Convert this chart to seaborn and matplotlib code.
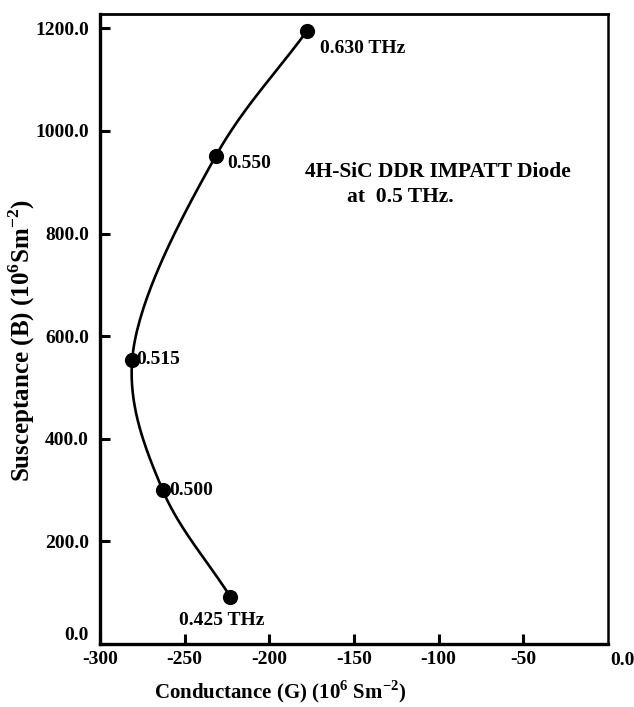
import numpy as np
import pandas as pd
import matplotlib
matplotlib.use("Agg")
import matplotlib.pyplot as plt
import seaborn as sns

# Admittance of the 4H-SiC DDR IMPATT diode at several frequencies
freq_labels = ["0.425 THz", "0.500", "0.515", "0.550", "0.630 THz"]
conductance = [-223.0, -263.0, -281.0, -231.5, -178.0]   # G (10^6 S m^-2)
susceptance = [92.0, 300.0, 554.0, 952.0, 1194.0]         # B (10^6 S m^-2)

x_ticks = [-300, -250, -200, -150, -100, -50]
y_ticks = [0, 200, 400, 600, 800, 1000, 1200]

df = pd.DataFrame({"G": conductance, "B": susceptance, "f": freq_labels})

XLIM = (-300, 0)
YLIM = (0, 1228)
W, H = 634, 707
AX_BOX = [100, 14, 508, 630]   # left, top, width, height in pixels


def catmull_rom(px, py, n=40, alpha=0.5):
    """Centripetal Catmull-Rom curve through the given points."""
    p = np.column_stack([px, py]).astype(float)
    p = np.vstack([2 * p[0] - p[1], p, 2 * p[-1] - p[-2]])
    out = []
    for i in range(1, len(p) - 2):
        p0, p1, p2, p3 = p[i - 1], p[i], p[i + 1], p[i + 2]
        t0 = 0.0
        t1 = t0 + np.linalg.norm(p1 - p0) ** alpha
        t2 = t1 + np.linalg.norm(p2 - p1) ** alpha
        t3 = t2 + np.linalg.norm(p3 - p2) ** alpha
        t = np.linspace(t1, t2, n)[:, None]
        a1 = (t1 - t) / (t1 - t0) * p0 + (t - t0) / (t1 - t0) * p1
        a2 = (t2 - t) / (t2 - t1) * p1 + (t - t1) / (t2 - t1) * p2
        a3 = (t3 - t) / (t3 - t2) * p2 + (t - t2) / (t3 - t2) * p3
        b1 = (t2 - t) / (t2 - t0) * a1 + (t - t0) / (t2 - t0) * a2
        b2 = (t3 - t) / (t3 - t1) * a2 + (t - t1) / (t3 - t1) * a3
        c = (t2 - t) / (t2 - t1) * b1 + (t - t1) / (t2 - t1) * b2
        out.append(c if i == 1 else c[1:])
    c = np.vstack(out)
    return c[:, 0], c[:, 1]


sns.set_theme(style="white")
plt.rcParams["font.family"] = ["Liberation Serif", "DejaVu Serif"]
plt.rcParams["mathtext.fontset"] = "custom"
plt.rcParams["mathtext.rm"] = "Liberation Serif:bold"
plt.rcParams["mathtext.bf"] = "Liberation Serif:bold"
for key in ["text.color", "axes.labelcolor", "xtick.color", "ytick.color"]:
    plt.rcParams[key] = "black"

fig = plt.figure(figsize=(W / 100, H / 100), dpi=100)
l, t, w, h = AX_BOX
ax = fig.add_axes([l / W, 1 - (t + h) / H, w / W, h / H])

# Smooth the curve in screen-proportional units so it bends evenly
sx = w / (XLIM[1] - XLIM[0])
sy = h / (YLIM[1] - YLIM[0])
u, v = catmull_rom(np.array(conductance) * sx, np.array(susceptance) * sy)
curve = pd.DataFrame({"G": u / sx, "B": v / sy})

sns.lineplot(data=curve, x="G", y="B", sort=False, estimator=None,
             color="black", lw=1.9, ax=ax)
sns.scatterplot(data=df, x="G", y="B", s=120, color="black",
                edgecolor="black", linewidth=0, zorder=5, ax=ax)

ax.set_xlim(*XLIM)
ax.set_ylim(*YLIM)
ax.set_xticks(x_ticks)
ax.set_xticklabels([str(tk) for tk in x_ticks])
ax.set_yticks(y_ticks)
ax.set_yticklabels([f"{tk:.1f}" for tk in y_ticks])
ax.tick_params(axis="both", direction="in", length=7, width=2.2,
               labelsize=14, bottom=True, left=True, top=False, right=False)
ax.tick_params(axis="x", pad=5)
ax.tick_params(axis="y", pad=8)
for lab in ax.get_xticklabels() + ax.get_yticklabels():
    lab.set_fontweight("bold")
ax.get_yticklabels()[0].set_verticalalignment("bottom")
ax.text(1.005, -0.012, "0.0", transform=ax.transAxes, ha="left", va="top",
        fontsize=14, fontweight="bold")

for side, lw in {"left": 2.4, "bottom": 2.4, "top": 2.0, "right": 1.8}.items():
    ax.spines[side].set_color("black")
    ax.spines[side].set_linewidth(lw)

ax.set_xlabel(r"Conductance (G) (10$^{6}$ Sm$^{-2}$)", fontsize=15,
              fontweight="bold")
ax.xaxis.set_label_coords((280 - l) / w, -(692 - (t + h)) / h)
ax.xaxis.label.set_verticalalignment("center")
ax.set_ylabel(r"Susceptance (B) (10$^{6}$Sm$^{-2}$)", fontsize=18,
              fontweight="bold")
ax.yaxis.set_label_coords(-(l - 22) / w, 1 - (340 - t) / h)
ax.yaxis.label.set_verticalalignment("center")

# Frequency labels next to the points
offsets = {
    "0.425 THz": (-37, -17),
    "0.500": (5, 0),
    "0.515": (3, 0),
    "0.550": (8, -6),
    "0.630 THz": (10, -12),
}
for g, b, f in zip(conductance, susceptance, freq_labels):
    dx, dy = offsets[f]
    ax.annotate(f, (g, b), xytext=(dx, dy), textcoords="offset points",
                ha="left", va="center", fontsize=14, fontweight="bold")

ax.text(-179, 920, "4H-SiC DDR IMPATT Diode", fontsize=15.5, ha="left",
        va="center", fontweight="bold")
ax.text(-154, 871, "at  0.5 THz.", fontsize=15.5, ha="left",
        va="center", fontweight="bold")

fig.savefig("out.png", dpi=100)
